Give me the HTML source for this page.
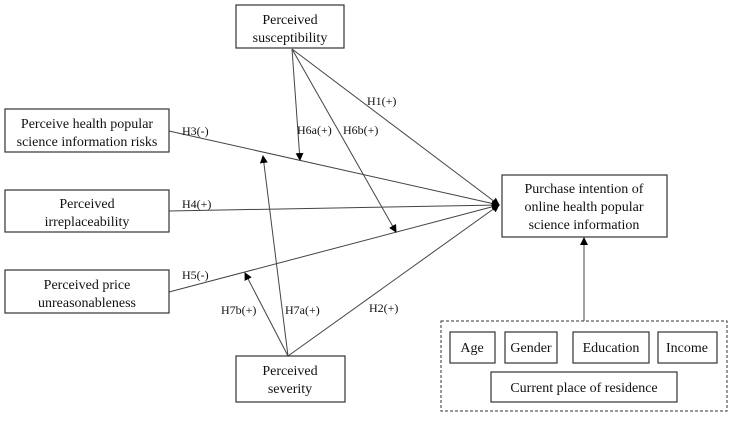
<!DOCTYPE html>
<html><head><style>
body{margin:0;background:#fff;}
svg text{font-family:"Liberation Serif",serif;fill:#111;}
</style></head><body>
<svg width="733" height="418" viewBox="0 0 733 418" xmlns="http://www.w3.org/2000/svg">
<defs><marker id="a" markerWidth="8" markerHeight="8" refX="7" refY="4" orient="auto" markerUnits="userSpaceOnUse"><path d="M0,0 L8,4 L0,8 z" fill="#000"/></marker></defs>
<g stroke="#444" stroke-width="1" fill="none">
<line x1="169" y1="131" x2="499" y2="205" marker-end="url(#a)"/>
<line x1="169" y1="211" x2="499" y2="205" marker-end="url(#a)"/>
<line x1="169" y1="292" x2="499" y2="205" marker-end="url(#a)"/>
<line x1="292" y1="49" x2="499" y2="205" marker-end="url(#a)"/>
<line x1="292" y1="49" x2="300" y2="160" marker-end="url(#a)"/>
<line x1="292" y1="49" x2="396" y2="232" marker-end="url(#a)"/>
<line x1="288" y1="356" x2="499" y2="205" marker-end="url(#a)"/>
<line x1="288" y1="356" x2="263" y2="156" marker-end="url(#a)"/>
<line x1="288" y1="356" x2="245" y2="273" marker-end="url(#a)"/>
<line x1="584" y1="321" x2="584" y2="238" marker-end="url(#a)"/>
</g>
<g fill="#fff" stroke="#333" stroke-width="1.2">
<rect x="236" y="5" width="108" height="43"/>
<rect x="5" y="109" width="164" height="43"/>
<rect x="5" y="190" width="164" height="42"/>
<rect x="5" y="270" width="164" height="43"/>
<rect x="236" y="356" width="109" height="46"/>
<rect x="502" y="175" width="165" height="62"/>
<rect x="450" y="332" width="45" height="31"/>
<rect x="505" y="332" width="52" height="31"/>
<rect x="573" y="332" width="76" height="31"/>
<rect x="658" y="332" width="59" height="31"/>
<rect x="491" y="372" width="186" height="30"/>
</g>
<rect x="441" y="321" width="286" height="90" fill="none" stroke="#333" stroke-dasharray="3,2"/>
<g font-size="14" text-anchor="middle">
<text x="290" y="24">Perceived</text><text x="290" y="42">susceptibility</text>
<text x="87" y="128">Perceive health popular</text><text x="87" y="146">science information risks</text>
<text x="87" y="208">Perceived</text><text x="87" y="226">irreplaceability</text>
<text x="87" y="289">Perceived price</text><text x="87" y="307">unreasonableness</text>
<text x="290" y="375">Perceived</text><text x="290" y="393">severity</text>
<text x="584" y="193">Purchase intention of</text><text x="584" y="211">online health popular</text><text x="584" y="229">science information</text>
<text x="472" y="352">Age</text><text x="531" y="352">Gender</text><text x="611" y="352">Education</text><text x="687" y="352">Income</text>
<text x="584" y="392">Current place of residence</text>
</g>
<g font-size="12">
<text x="182" y="135">H3(-)</text>
<text x="367" y="105">H1(+)</text>
<text x="297" y="134">H6a(+)</text>
<text x="343" y="134">H6b(+)</text>
<text x="182" y="208">H4(+)</text>
<text x="182" y="279">H5(-)</text>
<text x="221" y="314">H7b(+)</text>
<text x="285" y="314">H7a(+)</text>
<text x="369" y="312">H2(+)</text>
</g>
</svg>
</body></html>
